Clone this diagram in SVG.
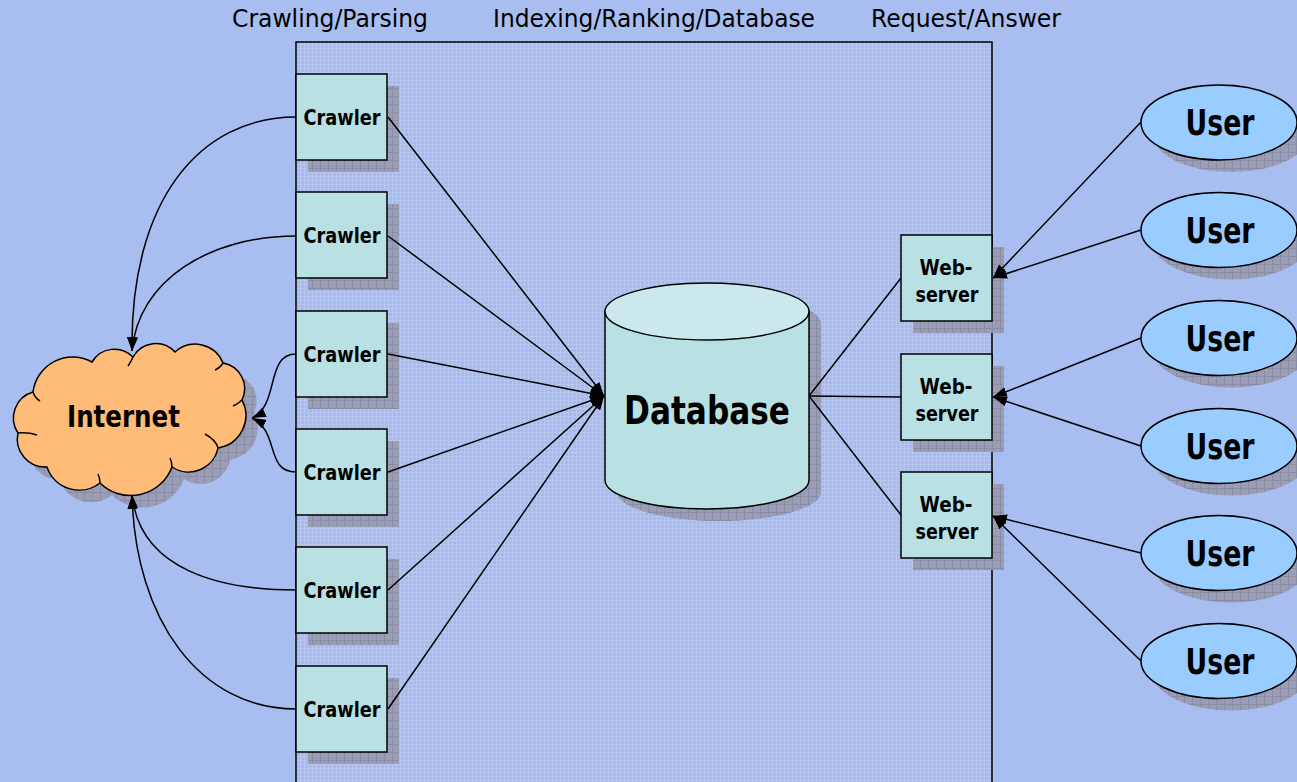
<svg xmlns="http://www.w3.org/2000/svg" width="1297" height="782" viewBox="0 0 1297 782">
<defs>
<pattern id="grid" width="4" height="4" patternUnits="userSpaceOnUse">
<rect width="4" height="4" fill="#A7BAEC"/>
<path d="M0,0.5H4M0.5,0V4" stroke="#B6C6F0" stroke-width="1"/>
</pattern>
<pattern id="sh" width="8" height="8" patternUnits="userSpaceOnUse">
<rect width="8" height="8" fill="#9A9DB5"/>
<path d="M0,0.5H8M0.5,0V8" stroke="#8A8DA6" stroke-width="1"/>
</pattern>
<marker id="arr" viewBox="0 0 14 10" refX="14" refY="5" markerWidth="14" markerHeight="10" markerUnits="userSpaceOnUse" orient="auto">
<path d="M0,0 L14,5 L0,10 z" fill="#000"/>
</marker>
<path id="cloud" d="M33,392 A40,40 0 0 1 92,362 A26,26 0 0 1 133,357 A26,26 0 0 1 175,352 A30,30 0 0 1 223,363 A26,26 0 0 1 242,400 A33,33 0 0 1 218,448 A30,30 0 0 1 172,467 A44,44 0 0 1 100,483 A34,34 0 0 1 47,467 A28,28 0 0 1 18,433 A27,27 0 0 1 33,392 Z"/>
</defs>
<style>
.hdr{font-family:"DejaVu Sans",sans-serif;font-size:24.5px;fill:#000;text-anchor:middle}
.lbl{font-family:"DejaVu Sans",sans-serif;font-weight:bold;fill:#000;text-anchor:middle}
.box{fill:#B9E1E3;stroke:#000;stroke-width:1.5}
.shadow{fill:url(#sh)}
.con{fill:none;stroke:#000;stroke-width:1.5}
.arrow{marker-end:url(#arr)}
.user{fill:#99CCFF;stroke:#000;stroke-width:1.5}
</style>
<rect width="1297" height="782" fill="#A9BEF0"/>
<g id="panel">
<rect x="296" y="42" width="696" height="760" fill="url(#grid)" stroke="#000" stroke-width="1.5"/>
</g>
<g id="headers">
<text class="hdr" x="330" y="27" textLength="196" lengthAdjust="spacingAndGlyphs">Crawling/Parsing</text>
<text class="hdr" x="654" y="27" textLength="322" lengthAdjust="spacingAndGlyphs">Indexing/Ranking/Database</text>
<text class="hdr" x="966" y="27" textLength="190" lengthAdjust="spacingAndGlyphs">Request/Answer</text>
</g>
<g id="shadows">
<rect class="shadow" x="308" y="86" width="91" height="86"/>
<rect class="shadow" x="308" y="204" width="91" height="86"/>
<rect class="shadow" x="308" y="323" width="91" height="86"/>
<rect class="shadow" x="308" y="441" width="91" height="86"/>
<rect class="shadow" x="308" y="559" width="91" height="86"/>
<rect class="shadow" x="308" y="678" width="91" height="86"/>
<rect class="shadow" x="913" y="247" width="91" height="86"/>
<rect class="shadow" x="913" y="366" width="91" height="86"/>
<rect class="shadow" x="913" y="484" width="91" height="86"/>
<path class="shadow" d="M617,323.5 V492 A102,29 0 0 0 821,492 V323.5 A102,28.5 0 0 0 617,323.5 Z"/>
<use href="#cloud" class="shadow" transform="translate(12,12)"/>
<ellipse class="shadow" cx="1231" cy="134.5" rx="78" ry="37.5"/>
<ellipse class="shadow" cx="1231" cy="242" rx="78" ry="37.5"/>
<ellipse class="shadow" cx="1231" cy="350" rx="78" ry="37.5"/>
<ellipse class="shadow" cx="1231" cy="458" rx="78" ry="37.5"/>
<ellipse class="shadow" cx="1231" cy="565" rx="78" ry="37.5"/>
<ellipse class="shadow" cx="1231" cy="673" rx="78" ry="37.5"/>
</g>
<g id="connectors">
<path class="con arrow" d="M388,117 L604,396"/>
<path class="con arrow" d="M388,236 L604,396"/>
<path class="con arrow" d="M388,354 L604,396"/>
<path class="con arrow" d="M388,472 L604,396"/>
<path class="con arrow" d="M388,590 L604,396"/>
<path class="con arrow" d="M388,709 L604,396"/>
<path class="con arrow" d="M296,117 C200,117 130,200 132,351"/>
<path class="con arrow" d="M296,236 C210,236 138,280 132,351"/>
<path class="con arrow" d="M296,354 C265,354 280,405 252,418"/>
<path class="con arrow" d="M296,472 C265,472 280,432 252,418"/>
<path class="con arrow" d="M296,590 C220,590 140,570 132,495"/>
<path class="con arrow" d="M296,709 C200,709 135,620 132,495"/>
<path class="con" d="M809,396 L901,278"/>
<path class="con" d="M809,396 L901,397"/>
<path class="con" d="M809,396 L901,515"/>
<path class="con arrow" d="M1141,122 L993,278"/>
<path class="con arrow" d="M1141,230 L993,278"/>
<path class="con arrow" d="M1141,338 L993,397"/>
<path class="con arrow" d="M1141,446 L993,397"/>
<path class="con arrow" d="M1141,553 L993,516"/>
<path class="con arrow" d="M1141,661 L993,516"/>
</g>
<g id="internet">
<use href="#cloud" fill="#FFBB78" stroke="#000" stroke-width="1.5"/>
<path class="con" d="M33,392 Q35,398 40,401 M133,357 Q131,362 128,366 M223,363 Q220,368 215,370 M242,400 Q238,404 233,406 M218,448 Q216,440 205,434 M172,467 Q172,462 170,458 M100,483 Q100,478 98,474 M18,433 Q28,432 37,435"/>
<text class="lbl" x="123.5" y="427" font-size="30" textLength="113" lengthAdjust="spacingAndGlyphs">Internet</text>
</g>
<g id="crawler1"><rect class="box" x="296" y="74" width="91" height="86"/><text class="lbl" x="342" y="125" font-size="21.5" textLength="77" lengthAdjust="spacingAndGlyphs">Crawler</text></g>
<g id="crawler2"><rect class="box" x="296" y="192" width="91" height="86"/><text class="lbl" x="342" y="243" font-size="21.5" textLength="77" lengthAdjust="spacingAndGlyphs">Crawler</text></g>
<g id="crawler3"><rect class="box" x="296" y="311" width="91" height="86"/><text class="lbl" x="342" y="362" font-size="21.5" textLength="77" lengthAdjust="spacingAndGlyphs">Crawler</text></g>
<g id="crawler4"><rect class="box" x="296" y="429" width="91" height="86"/><text class="lbl" x="342" y="480" font-size="21.5" textLength="77" lengthAdjust="spacingAndGlyphs">Crawler</text></g>
<g id="crawler5"><rect class="box" x="296" y="547" width="91" height="86"/><text class="lbl" x="342" y="598" font-size="21.5" textLength="77" lengthAdjust="spacingAndGlyphs">Crawler</text></g>
<g id="crawler6"><rect class="box" x="296" y="666" width="91" height="86"/><text class="lbl" x="342" y="717" font-size="21.5" textLength="77" lengthAdjust="spacingAndGlyphs">Crawler</text></g>
<g id="database">
<path d="M605,311.5 V480 A102,29 0 0 0 809,480 V311.5 Z" fill="#B9E1E3" stroke="#000" stroke-width="1.5"/>
<ellipse cx="707" cy="311.5" rx="102" ry="28.5" fill="#CBE9EB" stroke="#000" stroke-width="1.5"/>
<text class="lbl" x="707" y="424" font-size="38.5" textLength="166" lengthAdjust="spacingAndGlyphs">Database</text>
</g>
<g id="webserver1"><rect class="box" x="901" y="235" width="91" height="86"/><text class="lbl" x="946" y="275" font-size="22" textLength="53" lengthAdjust="spacingAndGlyphs">Web-</text><text class="lbl" x="947" y="301.5" font-size="22" textLength="63" lengthAdjust="spacingAndGlyphs">server</text></g>
<g id="webserver2"><rect class="box" x="901" y="354" width="91" height="86"/><text class="lbl" x="946" y="394" font-size="22" textLength="53" lengthAdjust="spacingAndGlyphs">Web-</text><text class="lbl" x="947" y="420.5" font-size="22" textLength="63" lengthAdjust="spacingAndGlyphs">server</text></g>
<g id="webserver3"><rect class="box" x="901" y="472" width="91" height="86"/><text class="lbl" x="946" y="512" font-size="22" textLength="53" lengthAdjust="spacingAndGlyphs">Web-</text><text class="lbl" x="947" y="538.5" font-size="22" textLength="63" lengthAdjust="spacingAndGlyphs">server</text></g>
<g id="user1"><ellipse class="user" cx="1219" cy="122.5" rx="78" ry="37.5"/><text class="lbl" x="1220" y="135" font-size="35" textLength="69" lengthAdjust="spacingAndGlyphs">User</text></g>
<g id="user2"><ellipse class="user" cx="1219" cy="230" rx="78" ry="37.5"/><text class="lbl" x="1220" y="242.5" font-size="35" textLength="69" lengthAdjust="spacingAndGlyphs">User</text></g>
<g id="user3"><ellipse class="user" cx="1219" cy="338" rx="78" ry="37.5"/><text class="lbl" x="1220" y="350.5" font-size="35" textLength="69" lengthAdjust="spacingAndGlyphs">User</text></g>
<g id="user4"><ellipse class="user" cx="1219" cy="446" rx="78" ry="37.5"/><text class="lbl" x="1220" y="458.5" font-size="35" textLength="69" lengthAdjust="spacingAndGlyphs">User</text></g>
<g id="user5"><ellipse class="user" cx="1219" cy="553" rx="78" ry="37.5"/><text class="lbl" x="1220" y="565.5" font-size="35" textLength="69" lengthAdjust="spacingAndGlyphs">User</text></g>
<g id="user6"><ellipse class="user" cx="1219" cy="661" rx="78" ry="37.5"/><text class="lbl" x="1220" y="673.5" font-size="35" textLength="69" lengthAdjust="spacingAndGlyphs">User</text></g>
</svg>
